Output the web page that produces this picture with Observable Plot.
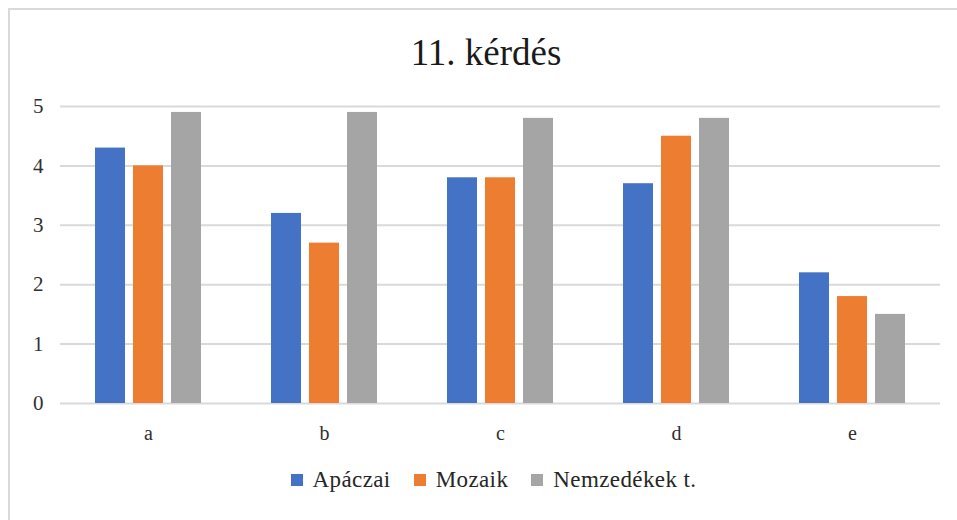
<!DOCTYPE html>
<html>
<head>
<meta charset="utf-8">
<script src="https://cdn.jsdelivr.net/npm/d3@7"></script>
<script src="https://cdn.jsdelivr.net/npm/@observablehq/plot@0.6"></script>
<style>
  body { margin: 0; background: #fff; }
  #wrap { position: relative; width: 957px; height: 520px; overflow: hidden; background: #fff; }
  #frame { position: absolute; left: 8px; top: 8px; width: 1000px; height: 600px; border: 2.5px solid #d9d9d9; box-sizing: border-box; }
  #title { position: absolute; left: 0; width: 972px; top: 31px; text-align: center; font-family: "Liberation Serif", serif; font-size: 37px; color: #1a1a1a; }
  #chart { position: absolute; left: 0; top: 80px; }
  #legend { position: absolute; left: 0; width: 987px; top: 467px; display: flex; justify-content: center; gap: 23px; font-family: "Liberation Serif", serif; font-size: 23px; letter-spacing: 0.4px; color: #262626; }
  .item { display: flex; align-items: center; gap: 10px; }
  .sw { width: 12px; height: 12px; display: inline-block; }
</style>
</head>
<body>
<div id="wrap">
  <div id="frame"></div>
  <div id="title">11. kérdés</div>
  <div id="chart"></div>
  <div id="legend"></div>
</div>
<script>
const categories = ["a", "b", "c", "d", "e"];
const seriesNames = ["Apáczai", "Mozaik", "Nemzedékek t."];
const apaczai = [4.3, 3.2, 3.8, 3.7, 2.2];
const mozaik = [4.0, 2.7, 3.8, 4.5, 1.8];
const nemzedekek = [4.9, 4.9, 4.8, 4.8, 1.5];
const colors = ["#4472C4", "#ED7D31", "#A5A5A5"];
const yTicks = [0, 1, 2, 3, 4, 5];

const seriesValues = [apaczai, mozaik, nemzedekek];
const data = [];
categories.forEach((c, i) => {
  seriesNames.forEach((s, j) => data.push({cat: c, series: s, value: seriesValues[j][i]}));
});

const plot = Plot.plot({
  width: 957,
  height: 370,
  marginLeft: 60,
  marginRight: 17,
  marginTop: 26,
  marginBottom: 47,
  style: {background: "transparent", overflow: "visible"},
  fx: {domain: categories, padding: 0, label: null, tickSize: 0, tickPadding: 22, axis: "bottom"},
  x: {domain: seriesNames, paddingInner: 0.21, paddingOuter: 0.92, axis: null},
  y: {domain: [0, 5], ticks: yTicks, tickFormat: "d", label: null, tickSize: 0, tickPadding: 17},
  color: {domain: seriesNames, range: colors},
  marks: [
    Plot.ruleY(yTicks, {stroke: "#d9d9d9", strokeWidth: 2}),
    Plot.barY(data, {fx: "cat", x: "series", y: "value", fill: "series"})
  ]
});
plot.querySelectorAll("[aria-label='fx-axis tick label']").forEach(e => {
  e.setAttribute("font-size", "20"); e.style.fontFamily = "'Liberation Serif', serif"; e.setAttribute("fill", "#303030");
});
plot.querySelectorAll("[aria-label='y-axis tick label']").forEach(e => {
  e.setAttribute("font-size", "21"); e.style.fontFamily = "'Liberation Serif', serif"; e.setAttribute("fill", "#303030");
});
document.getElementById("chart").appendChild(plot);

const legend = document.getElementById("legend");
seriesNames.forEach((s, i) => {
  const it = document.createElement("div");
  it.className = "item";
  const sw = document.createElement("span");
  sw.className = "sw"; sw.style.background = colors[i];
  const t = document.createElement("span");
  t.textContent = s;
  it.appendChild(sw); it.appendChild(t);
  legend.appendChild(it);
});
</script>
</body>
</html>
